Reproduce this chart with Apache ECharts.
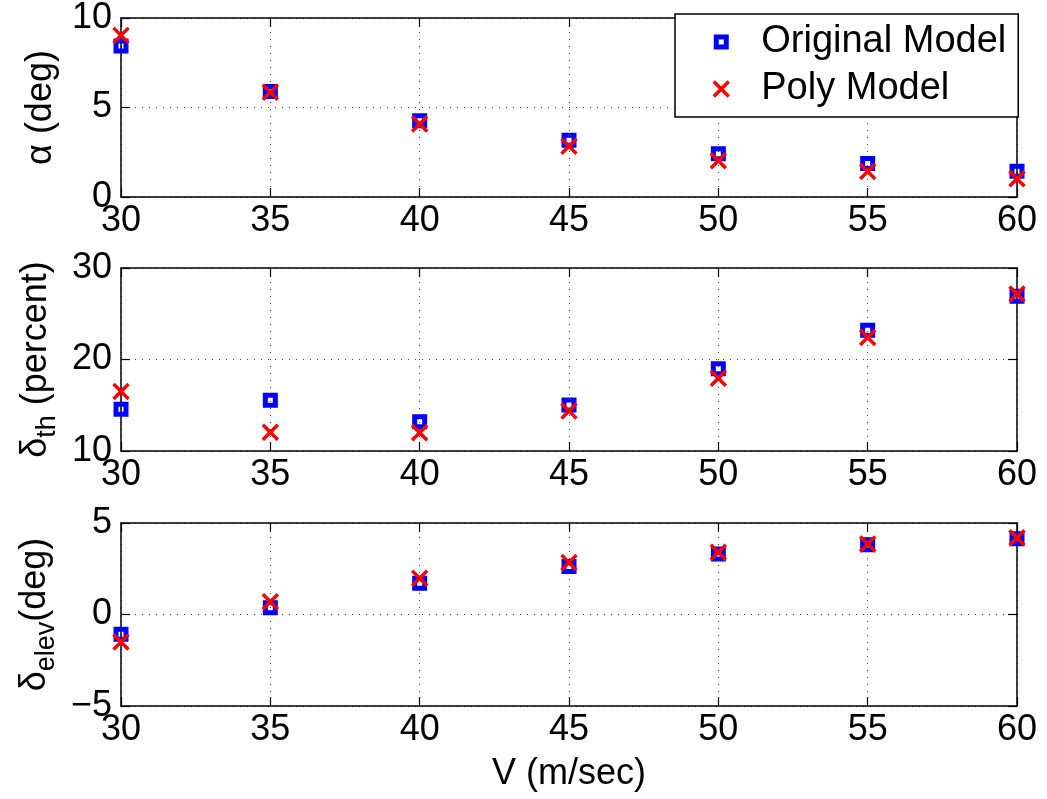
<!DOCTYPE html>
<html>
<head>
<meta charset="utf-8">
<script src="https://cdn.jsdelivr.net/npm/echarts@6/dist/echarts.min.js"></script>
<style>html,body{margin:0;padding:0;background:#fff}#c{width:1047px;height:799px}</style>
</head>
<body>
<div id="c"></div>
<script>
const speeds = [30, 35, 40, 45, 50, 55, 60];
const alphaOriginal = [8.43, 5.89, 4.26, 3.17, 2.42, 1.87, 1.44];
const alphaPoly     = [9.03, 5.85, 4.08, 2.84, 2.02, 1.42, 1.02];
const thOriginal = [14.57, 15.55, 13.2, 15.04, 18.98, 23.2, 26.9];
const thPoly     = [16.5, 12.05, 12.0, 14.38, 17.96, 22.4, 27.16];
const elevOriginal = [-1.08, 0.37, 1.71, 2.62, 3.3, 3.81, 4.14];
const elevPoly     = [-1.5, 0.7, 1.98, 2.84, 3.4, 3.85, 4.19];
const xTicks = [30, 35, 40, 45, 50, 55, 60];
const yRanges = [[0, 10, 5], [10, 30, 10], [-5, 5, 5]];
const seriesNames = ['Original Model', 'Poly Model'];

const FONT = 'Liberation Sans';
const FS = 36;
const gridTops = [14, 268, 523];
const gridH = 183;

const squarePath = 'path://M0,0H15V15H0Z M5,5V10H10V5Z';
const crossPath = 'path://M0,0L10,10M10,0L0,10';

const pairs = (ys) => speeds.map((x, i) => [x, ys[i]]);

const grids = gridTops.map(t => ({left: 121, width: 896, top: t, height: gridH}));
const xAxes = [];
const yAxes = [];
const axLine = {show: true, onZero: false, lineStyle: {color: '#000', width: 1.5}};
const tick = {show: true, inside: true, length: 9, lineStyle: {color: '#000', width: 1.2}};
const gridLine = {show: true, lineStyle: {color: '#444', width: 1, type: [1, 6]}};

const yNames = [
  '{g|α (deg)}',
  '{g|δ}{s|th}{g| (percent)}',
  '{g|δ}{s|elev}{g|(deg)}'
];
const rich = {
  g: {fontSize: FS, fontFamily: FONT, color: '#000', lineHeight: 40},
  s: {fontSize: 27, fontFamily: FONT, color: '#000', padding: [22, 0, 0, 0], lineHeight: 30}
};

for (let g = 0; g < 3; g++) {
  xAxes.push({
    type: 'value', gridIndex: g, position: 'bottom', min: 30, max: 60, interval: 5,
    axisLine: axLine, axisTick: tick, splitLine: gridLine,
    axisLabel: {fontSize: FS, fontFamily: FONT, color: '#000', margin: 6},
    name: g === 2 ? 'V (m/sec)' : '', nameLocation: 'middle', nameGap: 50,
    nameTextStyle: {fontSize: FS, fontFamily: FONT, color: '#000'}
  });
  xAxes.push({
    type: 'value', gridIndex: g, position: 'top', min: 30, max: 60, interval: 5,
    axisLine: axLine, axisTick: tick, splitLine: {show: false}, axisLabel: {show: false}
  });
  const r = yRanges[g];
  yAxes.push({
    type: 'value', gridIndex: g, position: 'left', min: r[0], max: r[1], interval: r[2],
    axisLine: axLine, axisTick: tick, splitLine: gridLine,
    axisLabel: {fontSize: FS, fontFamily: FONT, color: '#000', margin: 9,
      formatter: v => (v < 0 ? '\u2212' + Math.abs(v) : String(v))},
    name: yNames[g], nameLocation: 'middle', nameGap: 60, nameRotate: 90,
    nameTextStyle: {rich: rich}
  });
  yAxes.push({
    type: 'value', gridIndex: g, position: 'right', min: r[0], max: r[1], interval: r[2],
    axisLine: axLine, axisTick: tick, splitLine: {show: false}, axisLabel: {show: false}
  });
}

const dataSets = [[alphaOriginal, alphaPoly], [thOriginal, thPoly], [elevOriginal, elevPoly]];
const series = [];
for (let g = 0; g < 3; g++) {
  series.push({
    name: seriesNames[0], type: 'scatter', xAxisIndex: 2 * g, yAxisIndex: 2 * g,
    symbol: squarePath, symbolSize: 15,
    itemStyle: {color: '#0000ff', opacity: 1},
    data: pairs(dataSets[g][0]), z: 3
  });
  series.push({
    name: seriesNames[1], type: 'scatter', xAxisIndex: 2 * g, yAxisIndex: 2 * g,
    symbol: crossPath, symbolSize: 15,
    itemStyle: {color: '#ff0000', borderColor: '#ff0000', borderWidth: 3.5, opacity: 1},
    data: pairs(dataSets[g][1]), z: 4
  });
}

const chart = echarts.init(document.getElementById('c'), null, {renderer: 'canvas'});
chart.setOption({
  animation: false,
  backgroundColor: '#fff',
  grid: grids,
  xAxis: xAxes,
  yAxis: yAxes,
  legend: {
    left: 675, top: 14, orient: 'vertical',
    backgroundColor: '#fff', borderColor: '#000', borderWidth: 1.5,
    padding: [8, 12, 8, 37], itemGap: 7,
    itemWidth: 70, itemHeight: 15, selectedMode: false,
    textStyle: {fontSize: 38, fontFamily: FONT, color: '#000', lineHeight: 40},
    data: [
      {name: seriesNames[0], itemStyle: {borderWidth: 0}},
      {name: seriesNames[1], itemStyle: {borderWidth: 3.5, borderColor: '#ff0000'}}
    ]
  },
  series: series
});
</script>
</body>
</html>
